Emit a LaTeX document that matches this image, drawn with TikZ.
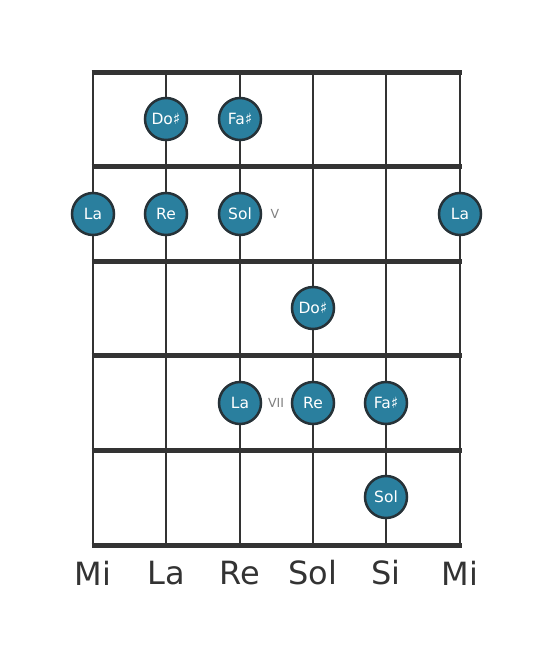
\documentclass[tikz,border=0pt]{standalone}
\usepackage{fontspec}
\setmainfont{DejaVu Sans}
\definecolor{dotfill}{HTML}{2A7F9E}
\definecolor{ink}{HTML}{333333}
\definecolor{rim}{HTML}{263238}
\begin{document}
\begin{tikzpicture}[x=1pt,y=-1pt,
  fret/.style={line width=5pt,draw=ink},
  str/.style={line width=2.8pt,draw=ink},
  notedot/.style={circle,fill=dotfill,draw=rim,line width=2.5pt,minimum size=42pt,inner sep=0pt,text=white,font=\fontsize{15.5}{15.5}\selectfont},
  strlabel/.style={text=ink,font=\fontsize{32}{32}\selectfont},
  posmark/.style={text=gray,font=\fontsize{12.5}{12.5}\selectfont}]
\useasboundingbox (0,0) rectangle (553,656);
% strings
\foreach \x/\n in {93/s1,166/s2,240/s3,313/s4,386/s5,460/s6}{
  \coordinate (\n t) at (\x,72);
  \coordinate (\n b) at (\x,545);
  \draw[str] (\n t) -- (\n b);
}
% frets
\foreach \y/\n in {72/f0,166/f1,261/f2,355/f3,450/f4,545/f5}{
  \coordinate (\n l) at (91.5,\y);
  \coordinate (\n r) at (461.5,\y);
  \draw[fret] (\n l) -- (\n r);
}
% notes
\node[notedot] (d1) at (166,119) {Do♯};
\node[notedot] (d2) at (240,119) {Fa♯};
\node[notedot] (d3) at (93,214) {La};
\node[notedot] (d4) at (166,214) {Re};
\node[notedot] (d5) at (240,214) {Sol};
\node[notedot] (d6) at (460,214) {La};
\node[notedot] (d7) at (313,308) {Do♯};
\node[notedot] (d8) at (240,403) {La};
\node[notedot] (d9) at (313,403) {Re};
\node[notedot] (d10) at (386,403) {Fa♯};
\node[notedot] (d11) at (386,497) {Sol};
% position marks
\node[posmark] (pv) at (275,214) {V};
\node[posmark] (pvii) at (276,403) {VII};
% string names
\node[strlabel] (l1) at (93,573) {Mi};
\node[strlabel] (l2) at (166,573) {La};
\node[strlabel] (l3) at (240,573) {Re};
\node[strlabel] (l4) at (313,573) {Sol};
\node[strlabel] (l5) at (386,573) {Si};
\node[strlabel] (l6) at (460,573) {Mi};
\end{tikzpicture}
\end{document}
